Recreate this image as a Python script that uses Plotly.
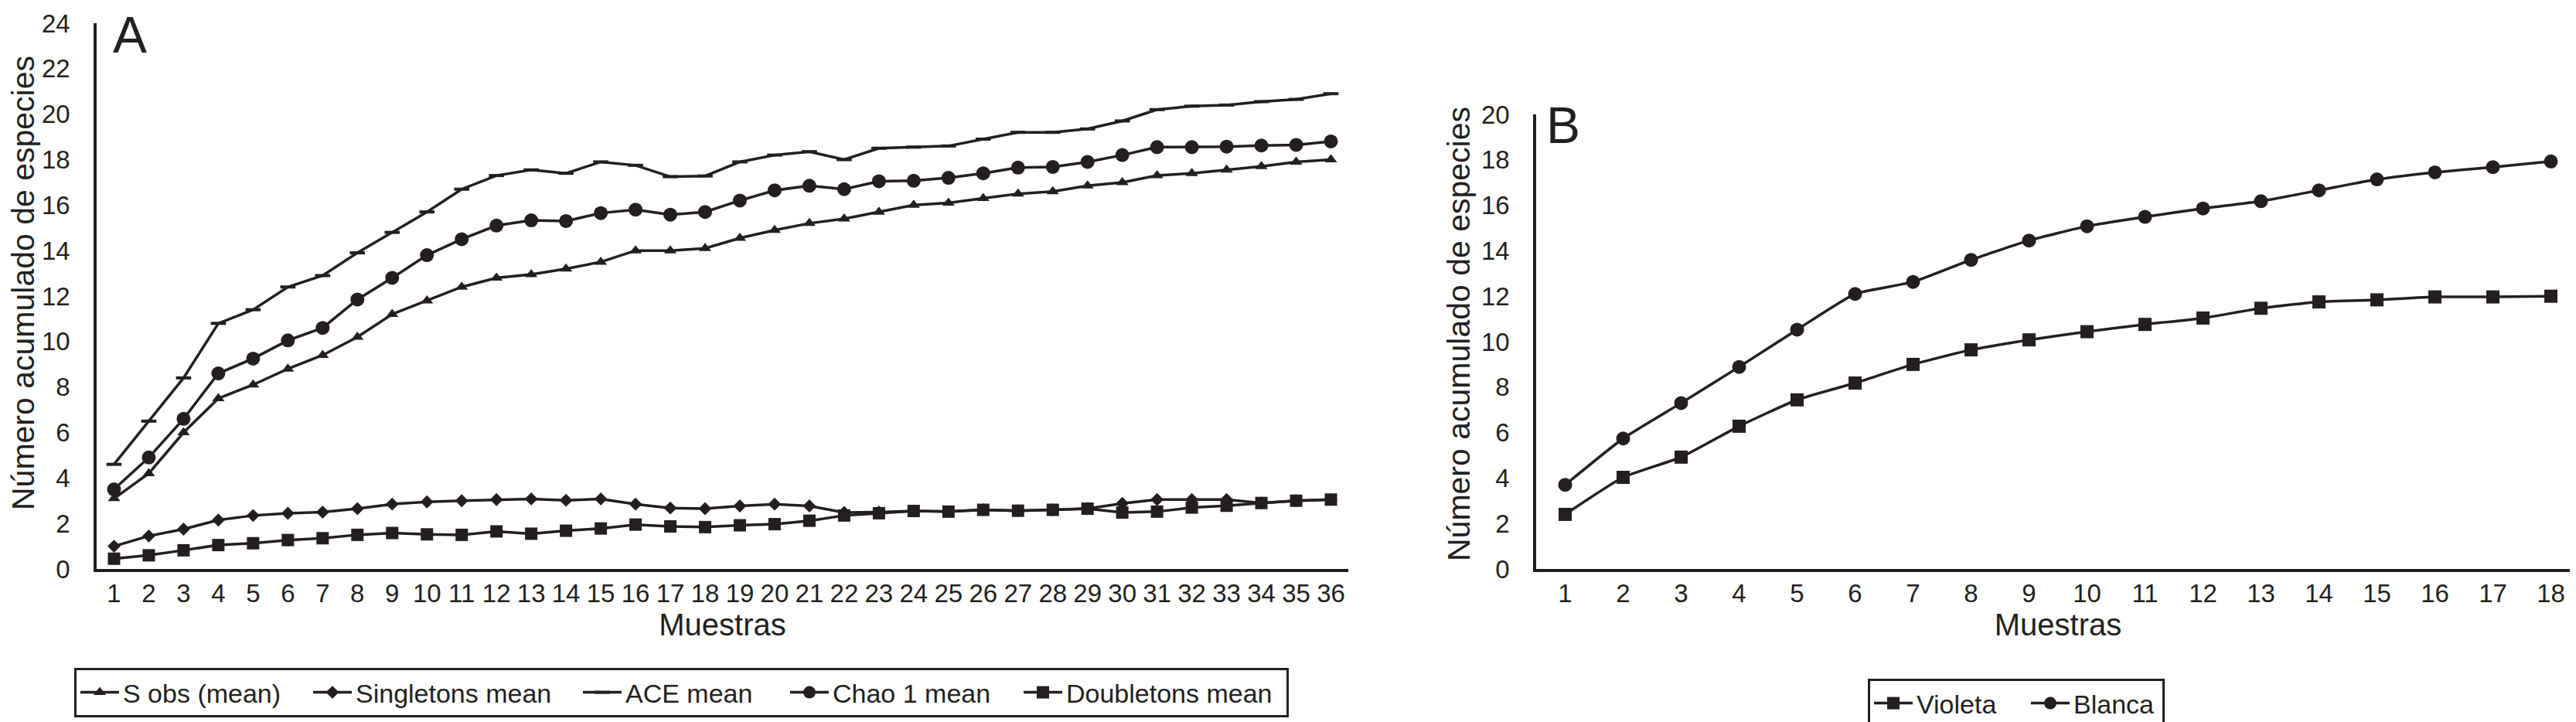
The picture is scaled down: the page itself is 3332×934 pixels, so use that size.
import plotly.graph_objects as go

# ---------------- data ----------------
muestras_a = list(range(1, 37))
s_obs = [3.1, 4.2, 6.0, 7.5, 8.1, 8.8, 9.4, 10.2, 11.2, 11.8, 12.4, 12.8, 12.95, 13.2, 13.5, 14.0,
         14.0, 14.1, 14.55, 14.9, 15.2, 15.4, 15.7, 16.0, 16.1, 16.3, 16.5, 16.6, 16.85, 17.0,
         17.3, 17.4, 17.55, 17.7, 17.9, 18.0]
singletons = [1.0, 1.45, 1.75, 2.15, 2.35, 2.45, 2.5, 2.65, 2.85, 2.95, 3.0, 3.05, 3.08, 3.02,
              3.08, 2.85, 2.68, 2.65, 2.77, 2.85, 2.77, 2.48, 2.5, 2.55, 2.52, 2.6, 2.56, 2.6,
              2.65, 2.88, 3.05, 3.05, 3.05, 2.9, 3.0, 3.05]
ace = [4.6, 6.5, 8.4, 10.8, 11.4, 12.4, 12.9, 13.9, 14.8, 15.7, 16.7, 17.3, 17.55, 17.4, 17.9,
       17.75, 17.25, 17.28, 17.9, 18.2, 18.35, 18.0, 18.5, 18.55, 18.6, 18.9, 19.2, 19.2, 19.35,
       19.7, 20.2, 20.35, 20.4, 20.55, 20.65, 20.9]
chao1 = [3.5, 4.9, 6.6, 8.6, 9.25, 10.05, 10.6, 11.85, 12.8, 13.8, 14.5, 15.1, 15.33, 15.3, 15.65,
         15.8, 15.58, 15.7, 16.2, 16.65, 16.85, 16.7, 17.05, 17.07, 17.2, 17.4, 17.65, 17.68,
         17.9, 18.2, 18.55, 18.55, 18.57, 18.62, 18.65, 18.8]
doubletons = [0.45, 0.6, 0.82, 1.05, 1.13, 1.27, 1.35, 1.5, 1.58, 1.52, 1.5, 1.65, 1.55, 1.68,
              1.78, 1.95, 1.87, 1.84, 1.92, 1.97, 2.12, 2.35, 2.45, 2.55, 2.52, 2.6, 2.56, 2.6,
              2.65, 2.48, 2.52, 2.7, 2.78, 2.9, 3.0, 3.05]

muestras_b = list(range(1, 19))
violeta = [2.4, 4.03, 4.92, 6.28, 7.44, 8.18, 9.0, 9.64, 10.08, 10.44, 10.76, 11.04, 11.47,
           11.75, 11.84, 11.97, 11.97, 12.0]
blanca = [3.7, 5.74, 7.3, 8.89, 10.53, 12.1, 12.63, 13.6, 14.45, 15.08, 15.49, 15.86, 16.18,
          16.66, 17.14, 17.45, 17.68, 17.93]

x_title = "Muestras"
y_title = "Número acumulado de especies"

# ---------------- figure ----------------
W, H = 3332, 934
INK = "#231f20"
FONT = "Liberation Sans, Arial, sans-serif"


def px_x(p):
    return p / W


def px_y(p):
    return (H - p) / H


fig = go.Figure()

series_a = [
    ("S obs (mean)", s_obs, dict(symbol="triangle-up", size=14), 236),
    ("Singletons mean", singletons, dict(symbol="diamond", size=13), 284),
    ("ACE mean", ace, dict(symbol="line-ew", size=14, line=dict(width=4, color=INK)), 203),
    ("Chao 1 mean", chao1, dict(symbol="circle", size=18), 237),
    ("Doubletons mean", doubletons, dict(symbol="square", size=16), 280),
]
for name, vals, mk, lw in series_a:
    mk = dict(mk)
    mk.setdefault("color", INK)
    fig.add_trace(go.Scatter(
        x=muestras_a, y=vals, name=name, mode="lines+markers",
        line=dict(color=INK, width=3.5), marker=mk,
        xaxis="x", yaxis="y", legend="legend", legendwidth=lw,
    ))

series_b = [
    ("Violeta", violeta, dict(symbol="square", size=17), 138),
    ("Blanca", blanca, dict(symbol="circle", size=18), 110),
]
for name, vals, mk, lw in series_b:
    mk = dict(mk)
    mk["color"] = INK
    fig.add_trace(go.Scatter(
        x=muestras_b, y=vals, name=name, mode="lines+markers",
        line=dict(color=INK, width=3.5, shape="spline", smoothing=0.5), marker=mk,
        xaxis="x2", yaxis="y2", legend="legend2", legendwidth=lw,
    ))

axis_common = dict(
    showline=True, linecolor=INK, linewidth=3.5, mirror=False,
    showgrid=False, zeroline=False, ticks="",
    tickfont=dict(family=FONT, size=33, color=INK),
    automargin=False, fixedrange=True,
)

fig.update_layout(
    width=W, height=H,
    margin=dict(l=0, r=0, t=0, b=0),
    paper_bgcolor="white", plot_bgcolor="white",
    font=dict(family=FONT, color=INK),
    xaxis=dict(axis_common, domain=[px_x(117), px_x(1736)], range=[0.5, 36.5],
               tickmode="array", tickvals=muestras_a, ticktext=[str(v) for v in muestras_a],
               ticklabelstandoff=0, anchor="y",
               title=dict(text=x_title, font=dict(family=FONT, size=40, color=INK), standoff=10)),
    yaxis=dict(axis_common, domain=[1 - 728 / H, 1 - 22 / H], range=[0, 24], dtick=2,
               ticklabelstandoff=24, anchor="x"),
    xaxis2=dict(axis_common, domain=[px_x(1979), px_x(3329)], range=[0.5, 18.5],
                tickmode="array", tickvals=muestras_b, ticktext=[str(v) for v in muestras_b],
                ticklabelstandoff=0, anchor="y2",
                title=dict(text=x_title, font=dict(family=FONT, size=40, color=INK), standoff=10)),
    yaxis2=dict(axis_common, domain=[1 - 728 / H, 1 - 140 / H], range=[0, 20], dtick=2,
                ticklabelstandoff=24, anchor="x2"),
    legend=dict(orientation="h", x=px_x(88), xanchor="left", y=px_y(856), yanchor="top",
                bordercolor=INK, borderwidth=3, bgcolor="white", itemwidth=50,
                font=dict(family=FONT, size=34, color=INK), traceorder="normal"),
    legend2=dict(orientation="h", x=px_x(2408), xanchor="left", y=px_y(870), yanchor="top",
                 bordercolor=INK, borderwidth=3, bgcolor="white", itemwidth=50,
                 font=dict(family=FONT, size=34, color=INK), traceorder="normal"),
    showlegend=True,
    annotations=[
        dict(text="A", xref="paper", yref="paper", x=px_x(136), y=px_y(37.5),
             xanchor="left", yanchor="middle", showarrow=False,
             font=dict(family=FONT, size=66, color=INK)),
        dict(text="B", xref="paper", yref="paper", x=px_x(1990), y=px_y(153.5),
             xanchor="left", yanchor="middle", showarrow=False,
             font=dict(family=FONT, size=66, color=INK)),
        dict(text=y_title, xref="paper", yref="paper", x=px_x(22), y=px_y(358),
             xanchor="center", yanchor="middle", textangle=-90, showarrow=False,
             font=dict(family=FONT, size=41, color=INK)),
        dict(text=y_title, xref="paper", yref="paper", x=px_x(1879), y=px_y(424),
             xanchor="center", yanchor="middle", textangle=-90, showarrow=False,
             font=dict(family=FONT, size=41, color=INK)),
    ],
)

fig.write_html("out.html")
